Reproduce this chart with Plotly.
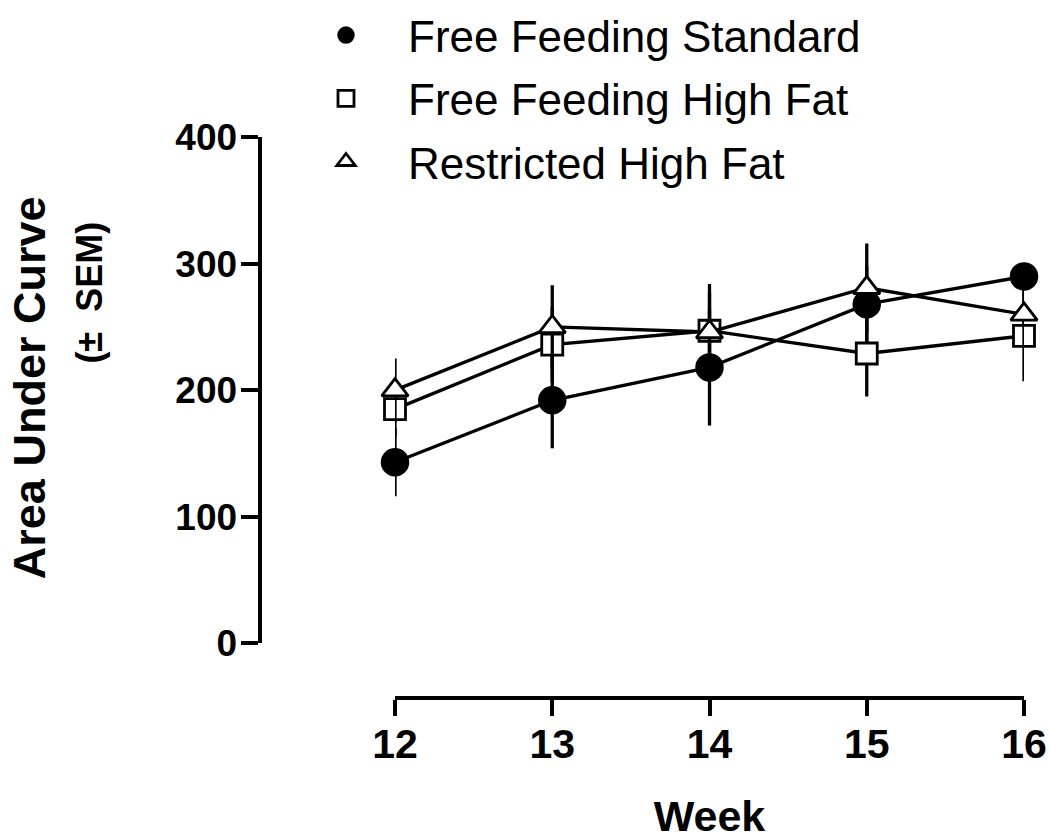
import plotly.graph_objects as go

# ---- data ----
weeks = [12, 13, 14, 15, 16]
ffs_mean = [143, 192, 218, 268, 290]      # Free Feeding Standard
ffs_sem = [27, 38, 46, 30, 10]
ffhf_mean = [185, 236, 247, 229, 243]     # Free Feeding High Fat
ffhf_sem = [22, 30, 30, 34, 36]
rhf_mean = [200, 250, 246, 281, 260]      # Restricted High Fat
rhf_sem = [25, 33, 38, 35, 25]
series_names = ["Free Feeding Standard", "Free Feeding High Fat", "Restricted High Fat"]
y_ticks = [0, 100, 200, 300, 400]
x_title = "Week"
y_title_1 = "Area Under Curve"
y_title_2 = "(±  SEM)"

# ---- layout geometry (pixels in a 1050x840 canvas) ----
W, H = 1050, 840
X_LEFT, X_RIGHT = 395, 1024     # x axis spans week 12 .. 16
Y_TOP, Y_BOT = 134, 642         # y axis spans 400 .. 0
X_AXIS_Y = 697                  # x axis line position
Y_AXIS_X = 259.5                # y axis line position

FONT = "Liberation Sans, Arial, Helvetica, sans-serif"
BLACK = "#000000"

styles = [
    dict(symbol="circle", size=27, color=BLACK, line=dict(color=BLACK, width=1.5)),
    dict(symbol="square", size=21, color="white", line=dict(color=BLACK, width=2.8)),
    dict(symbol="triangle-up", size=23, color="white", line=dict(color=BLACK, width=2.8)),
]
means = [ffs_mean, ffhf_mean, rhf_mean]
sems = [ffs_sem, ffhf_sem, rhf_sem]

fig = go.Figure()
for name, m, s, st in zip(series_names, means, sems, styles):
    fig.add_trace(go.Scatter(
        x=weeks, y=m, name=name, mode="lines+markers",
        line=dict(color=BLACK, width=3.3),
        marker=st,
        error_y=dict(type="data", array=s, visible=True, color=BLACK,
                     thickness=3.3, width=0),
        cliponaxis=False, showlegend=False,
    ))

# legend entries (markers only, as in the reference)
for name, st in zip(series_names, styles):
    fig.add_trace(go.Scatter(
        x=[None], y=[None], name=name, mode="markers", marker=dict(st),
        showlegend=True, legendgroup=name,
    ))

fig.update_layout(
    width=W, height=H,
    margin=dict(l=0, r=0, t=0, b=0, pad=0),
    paper_bgcolor="white", plot_bgcolor="white",
    font=dict(family=FONT, color=BLACK),
    showlegend=True,
    legend=dict(
        x=284 / W, y=1 + 4 / H, xanchor="left", yanchor="top",
        font=dict(family=FONT, size=44, color=BLACK),
        itemwidth=114, tracegroupgap=3, traceorder="grouped",
        bgcolor="rgba(0,0,0,0)", itemclick=False, itemdoubleclick=False,
    ),
    xaxis=dict(
        domain=[X_LEFT / W, X_RIGHT / W], range=[12, 16],
        anchor="free", position=1 - X_AXIS_Y / H,
        showline=True, linecolor=BLACK, linewidth=4,
        ticks="outside", ticklen=16, tickwidth=4, tickcolor=BLACK,
        tickvals=weeks, ticktext=[str(w) for w in weeks],
        tickfont=dict(family=FONT, size=41, weight="bold", color=BLACK),
        ticklabelstandoff=-7,
        showgrid=False, zeroline=False, automargin=False, fixedrange=True,
        title=dict(text=x_title, standoff=35,
                   font=dict(family=FONT, size=43, weight="bold", color=BLACK)),
    ),
    yaxis=dict(
        domain=[1 - Y_BOT / H, 1 - Y_TOP / H], range=[0, 400],
        anchor="free", position=Y_AXIS_X / W,
        showline=True, linecolor=BLACK, linewidth=4,
        ticks="outside", ticklen=17, tickwidth=4, tickcolor=BLACK,
        tickvals=y_ticks, ticktext=[str(v) for v in y_ticks],
        tickfont=dict(family=FONT, size=37, weight="bold", color=BLACK),
        ticklabelstandoff=-4,
        showgrid=False, zeroline=False, automargin=False, fixedrange=True,
    ),
    annotations=[
        dict(text=y_title_1, xref="paper", yref="paper",
             x=29 / W, y=1 - 386 / H, xanchor="center", yanchor="middle",
             textangle=-90, showarrow=False,
             font=dict(family=FONT, size=45, weight="bold", color=BLACK)),
        dict(text=y_title_2, xref="paper", yref="paper",
             x=90 / W, y=1 - 290 / H, xanchor="center", yanchor="middle",
             textangle=-90, showarrow=False,
             font=dict(family=FONT, size=36, weight="bold", color=BLACK)),
    ],
)

fig.write_html("out.html", post_script="document.body.style.margin='0';",
               config={"displayModeBar": False})
